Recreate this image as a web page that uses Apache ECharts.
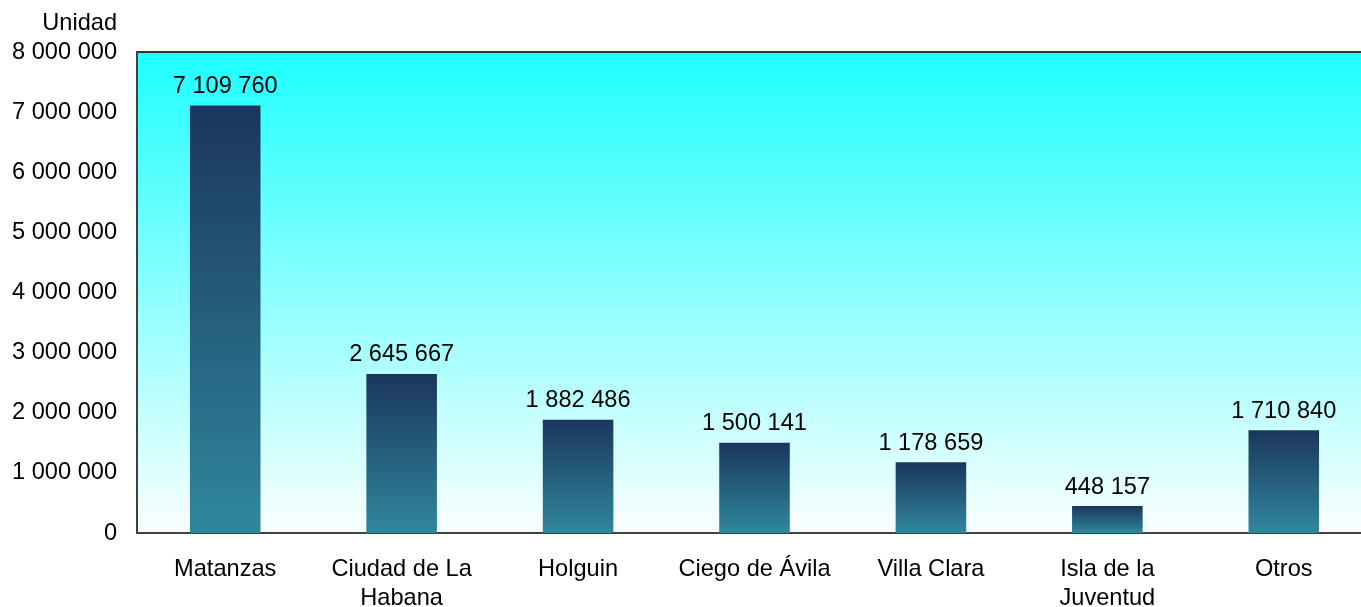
<!DOCTYPE html>
<html><head><meta charset="utf-8">
<script src="https://cdn.jsdelivr.net/npm/echarts@6/dist/echarts.min.js"></script>
<style>html,body{margin:0;padding:0;background:#fff}#c{width:1361px;height:607px}</style>
</head><body><div id="c"></div>
<script>
const categories = ['Matanzas', 'Ciudad de La\nHabana', 'Holguin', 'Ciego de Ávila', 'Villa Clara', 'Isla de la\nJuventud', 'Otros'];
const values = [7109760, 2645667, 1882486, 1500141, 1178659, 448157, 1710840];
const yTicks = [0, 1000000, 2000000, 3000000, 4000000, 5000000, 6000000, 7000000, 8000000];
const yName = 'Unidad';

function fmt(v){ return String(v).replace(/\B(?=(\d{3})+(?!\d))/g, ' '); }
const font = 'Liberation Sans, Arial, sans-serif';
const fs = 23.6;
const chart = echarts.init(document.getElementById('c'));
chart.setOption({
  animation: false,
  grid: {left: 137, right: -11, top: 52, bottom: 74, show: true, borderColor: '#333', borderWidth: 2,
    outerBoundsMode: 'none', containLabel: false,
    backgroundColor: new echarts.graphic.LinearGradient(0,0,0,1,[{offset:0,color:'#1effff'},{offset:1,color:'#fafffe'}])},
  xAxis: {type: 'category', data: categories,
    axisLine: {show: true, lineStyle: {color: '#404040', width: 2}},
    axisTick: {show: false},
    axisLabel: {color: '#000', fontFamily: font, fontSize: fs, margin: 22, lineHeight: 29, interval: 0}},
  yAxis: {type: 'value', min: yTicks[0], max: yTicks[yTicks.length-1], interval: yTicks[1]-yTicks[0],
    name: yName, nameLocation: 'end', nameGap: 17,
    nameTextStyle: {color: '#000', fontFamily: font, fontSize: fs, align: 'right', padding: [0, 20, 0, 0]},
    axisLine: {show: true, lineStyle: {color: '#404040', width: 2}},
    axisTick: {show: false}, splitLine: {show: false},
    axisLabel: {color: '#000', fontFamily: font, fontSize: fs, margin: 20, formatter: v => fmt(v)}},
  series: [{type: 'bar', data: values, barWidth: '40%',
    itemStyle: {color: new echarts.graphic.LinearGradient(0,0,0,1,[{offset:0,color:'#1b365c'},{offset:0.5,color:'#255f7c'},{offset:1,color:'#30879d'}])},
    label: {show: true, position: 'top', distance: 7, color: '#000', fontFamily: font, fontSize: fs, formatter: p => fmt(p.value)}}]
});
</script></body></html>
